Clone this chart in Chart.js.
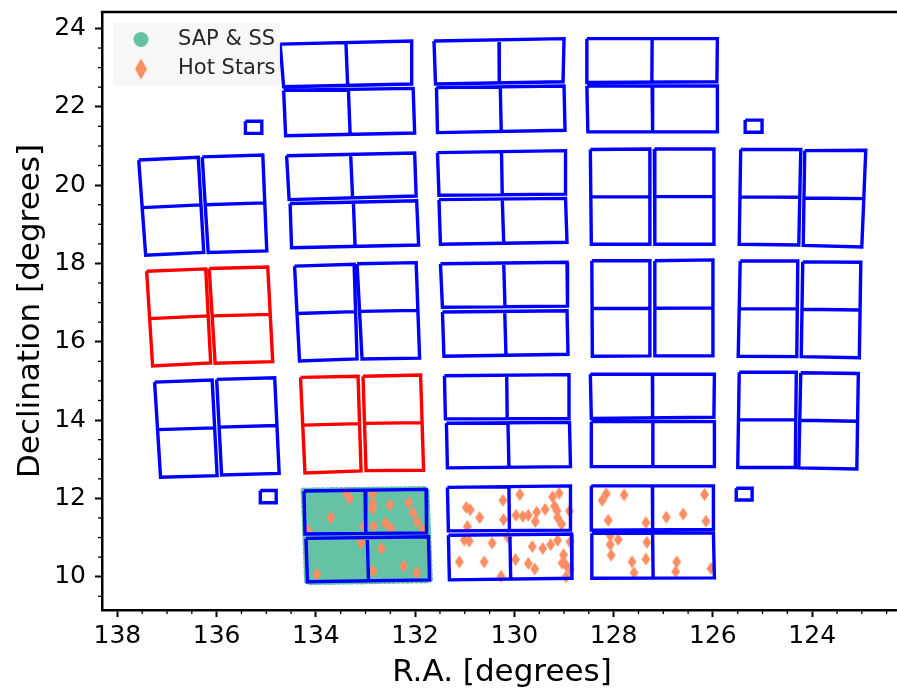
<!DOCTYPE html>
<html>
<head>
<meta charset="utf-8">
<title>K2 field of view</title>
<script src="https://cdn.jsdelivr.net/npm/chart.js@4.4.1/dist/chart.umd.min.js"></script>
<style>
    html, body { margin: 0; padding: 0; background: #ffffff; overflow: hidden; }
    #fovChart { display: block; }
</style>
</head>
<body>
<canvas id="fovChart" width="908" height="692"></canvas>
<script>
const raTicks = [138, 136, 134, 132, 130, 128, 126, 124];
const decTicks = [10, 12, 14, 16, 18, 20, 22, 24];
const legendLabels = ['SAP & SS', 'Hot Stars'];

// each CCD: four corners [R.A., Dec]; the divider joins mid(0,1) and mid(2,3)
const blueCcds = [
    [[134.72, 23.60], [132.07, 23.68], [132.07, 22.58], [134.65, 22.51]],
    [[134.65, 22.42], [132.04, 22.47], [132.01, 21.33], [134.61, 21.26]],
    [[131.62, 23.68], [129.00, 23.74], [129.02, 22.64], [131.59, 22.58]],
    [[131.57, 22.49], [129.00, 22.53], [128.98, 21.40], [131.55, 21.34]],
    [[128.54, 23.74], [125.91, 23.74], [125.92, 22.64], [128.54, 22.62]],
    [[128.54, 22.53], [125.91, 22.53], [125.91, 21.36], [128.52, 21.36]],
    [[137.57, 20.64], [137.43, 18.21], [136.26, 18.28], [136.37, 20.71]],
    [[136.29, 20.72], [136.17, 18.28], [134.99, 18.32], [135.07, 20.77]],
    [[134.59, 20.75], [132.01, 20.82], [131.98, 19.72], [134.54, 19.63]],
    [[134.52, 19.53], [131.97, 19.60], [131.93, 18.47], [134.49, 18.40]],
    [[131.55, 20.83], [128.97, 20.88], [128.97, 19.77], [131.52, 19.74]],
    [[131.52, 19.63], [128.97, 19.66], [128.94, 18.54], [131.49, 18.49]],
    [[128.47, 20.91], [128.45, 18.49], [127.27, 18.49], [127.27, 20.92]],
    [[127.18, 20.92], [127.17, 18.49], [125.99, 18.49], [125.98, 20.92]],
    [[125.44, 20.91], [125.47, 18.49], [124.27, 18.47], [124.23, 20.91]],
    [[124.15, 20.88], [124.18, 18.46], [123.00, 18.42], [122.92, 20.89]],
    [[134.43, 17.93], [134.33, 15.51], [133.17, 15.56], [133.23, 17.98]],
    [[133.17, 17.99], [133.07, 15.56], [131.91, 15.58], [131.98, 18.02]],
    [[131.49, 17.99], [128.94, 18.03], [128.93, 16.91], [131.45, 16.88]],
    [[131.45, 16.76], [128.94, 16.79], [128.92, 15.68], [131.42, 15.63]],
    [[128.44, 18.07], [128.43, 15.63], [127.27, 15.64], [127.27, 18.07]],
    [[127.17, 18.07], [127.17, 15.64], [126.01, 15.64], [126.00, 18.09]],
    [[125.45, 18.06], [125.49, 15.63], [124.31, 15.62], [124.29, 18.06]],
    [[124.19, 18.04], [124.22, 15.62], [123.05, 15.59], [123.02, 18.03]],
    [[137.25, 14.97], [137.13, 12.54], [135.99, 12.58], [136.09, 15.02]],
    [[136.00, 15.04], [135.90, 12.60], [134.74, 12.64], [134.83, 15.08]],
    [[131.41, 15.13], [128.90, 15.16], [128.90, 14.04], [131.39, 14.03]],
    [[131.37, 13.92], [128.89, 13.94], [128.87, 12.81], [131.35, 12.78]],
    [[128.47, 15.17], [125.97, 15.17], [125.98, 14.07], [128.45, 14.04]],
    [[128.45, 13.96], [125.97, 13.96], [125.97, 12.81], [128.45, 12.81]],
    [[125.47, 15.22], [125.50, 12.79], [124.34, 12.79], [124.32, 15.22]],
    [[124.23, 15.21], [124.27, 12.78], [123.10, 12.75], [123.07, 15.19]],
    [[134.24, 12.19], [131.78, 12.23], [131.77, 11.12], [134.22, 11.09]],
    [[134.20, 10.98], [131.73, 11.02], [131.71, 9.92], [134.17, 9.87]],
    [[131.35, 12.28], [128.87, 12.32], [128.87, 11.19], [131.33, 11.17]],
    [[131.33, 11.06], [128.85, 11.09], [128.84, 9.96], [131.31, 9.92]],
    [[128.45, 12.32], [125.99, 12.32], [125.99, 11.21], [128.44, 11.19]],
    [[128.44, 11.11], [125.99, 11.12], [125.97, 9.97], [128.44, 9.96]]
];

const redCcds = [
    [[137.41, 17.80], [137.29, 15.38], [136.12, 15.46], [136.22, 17.86]],
    [[136.15, 17.87], [136.03, 15.45], [134.87, 15.49], [134.97, 17.91]],
    [[134.31, 15.09], [134.22, 12.65], [133.09, 12.70], [133.15, 15.12]],
    [[133.05, 15.12], [132.99, 12.71], [131.83, 12.72], [131.89, 15.15]]
];

const fgsBoxes = [
    [[135.42, 21.63], [135.09, 21.63], [135.09, 21.32], [135.42, 21.32]],
    [[125.35, 21.66], [125.01, 21.66], [125.01, 21.35], [125.35, 21.35]],
    [[135.12, 12.20], [134.80, 12.20], [134.80, 11.89], [135.12, 11.89]],
    [[125.53, 12.26], [125.21, 12.26], [125.21, 11.96], [125.53, 11.96]]
];

const sapOutline = [[134.24, 12.19], [131.78, 12.23], [131.71, 9.92], [134.17, 9.87]];

const hotStarRa = [
    133.39, 133.32, 133.70, 132.86, 132.85, 132.86, 132.51, 132.13, 132.04, 131.96, 132.60,
    132.49, 132.84, 131.84, 134.16, 133.09, 132.68, 132.23, 131.97, 132.85, 133.98, 133.03,
    129.89, 130.23, 129.23, 129.10, 130.97, 130.89, 130.70, 130.22, 130.95, 129.97, 129.83,
    129.72, 129.55, 129.58, 129.38, 129.19, 129.14, 129.13, 129.05, 128.89,
    131.01, 130.91, 130.45, 130.13, 131.11, 130.61, 130.27, 129.98, 129.64, 129.43, 129.27,
    129.13, 129.72, 129.59, 129.01, 129.04, 128.97, 128.88, 128.88, 128.96,
    128.15, 128.23, 127.79, 128.11, 127.35, 126.17, 126.94, 126.60, 126.14, 128.07,
    127.91, 128.07, 128.05, 127.33, 127.63, 127.35, 127.59, 126.73, 126.75, 126.04
];
const hotStarDec = [
    12.14, 12.00, 11.51, 12.11, 11.86, 11.74, 11.83, 11.89, 11.63, 11.40, 11.37,
    11.24, 11.29, 11.20, 11.19, 10.87, 10.72, 10.27, 10.10, 10.15, 10.06, 11.28,
    12.10, 11.95, 12.04, 12.13, 11.77, 11.71, 11.51, 11.46, 11.28, 11.57, 11.54,
    11.57, 11.65, 11.41, 11.72, 11.80, 11.68, 11.51, 11.34, 11.68,
    10.94, 10.91, 10.86, 11.01, 10.38, 10.38, 10.01, 10.44, 10.77, 10.72, 10.82,
    10.93, 10.34, 10.20, 10.56, 10.35, 10.31, 10.89, 10.19, 10.00,
    12.12, 11.95, 12.09, 11.44, 11.38, 12.10, 11.52, 11.60, 11.42, 11.05,
    10.95, 10.82, 10.55, 10.88, 10.38, 10.45, 10.10, 10.38, 10.13, 10.21
];

const GREEN = '#66c2a5';
const ORANGE = '#fc8d62';
const FONT = "'DejaVu Sans', sans-serif";

function mid(a, b) {
    return { x: (a[0] + b[0]) / 2, y: (a[1] + b[1]) / 2 };
}

function outlinePoints(boxes, withDivider) {
    const pts = [];
    boxes.forEach(c => {
        c.concat([c[0]]).forEach(p => pts.push({ x: p[0], y: p[1] }));
        pts.push({ x: null, y: null });
        if (withDivider) {
            pts.push(mid(c[0], c[1]), mid(c[2], c[3]));
            pts.push({ x: null, y: null });
        }
    });
    return pts;
}

function makeDiamond(w, h, color) {
    const c = document.createElement('canvas');
    c.width = w + 2;
    c.height = h + 2;
    const g = c.getContext('2d');
    g.fillStyle = color;
    g.beginPath();
    g.moveTo(c.width / 2, 1);
    g.lineTo(c.width - 1, c.height / 2);
    g.lineTo(c.width / 2, c.height - 1);
    g.lineTo(1, c.height / 2);
    g.closePath();
    g.fill();
    return c;
}

const starMarker = makeDiamond(9, 13, ORANGE);

const frameAndMinorTicks = {
    id: 'frameAndMinorTicks',
    afterDraw(chart) {
        const { ctx, chartArea: a, scales: { x, y } } = chart;
        ctx.save();
        ctx.strokeStyle = '#000';
        ctx.lineWidth = 1.3;
        for (let v = Math.ceil(x.min * 2) / 2; v <= x.max; v += 0.5) {
            if (v % 2 === 0) continue;
            const px = x.getPixelForValue(v);
            ctx.beginPath();
            ctx.moveTo(px, a.bottom);
            ctx.lineTo(px, a.bottom + 4);
            ctx.stroke();
        }
        for (let v = Math.ceil(y.min * 2) / 2; v <= y.max; v += 0.5) {
            if (v % 2 === 0) continue;
            const py = y.getPixelForValue(v);
            ctx.beginPath();
            ctx.moveTo(a.left, py);
            ctx.lineTo(a.left - 4, py);
            ctx.stroke();
        }
        ctx.lineWidth = 2.5;
        ctx.beginPath();
        ctx.moveTo(a.left - 1.25, a.top);
        ctx.lineTo(a.right, a.top);
        ctx.lineTo(a.right, a.bottom);
        ctx.stroke();
        ctx.restore();
    }
};

const legendPlugin = {
    id: 'fovLegend',
    afterDraw(chart) {
        const { ctx, chartArea: a } = chart;
        const x0 = a.left + 11;
        const y0 = a.top + 11;
        ctx.save();
        ctx.fillStyle = 'rgba(246,246,246,0.9)';
        ctx.fillRect(x0, y0, 167, 63);
        ctx.fillStyle = GREEN;
        ctx.beginPath();
        ctx.arc(x0 + 28, y0 + 16.5, 7.5, 0, Math.PI * 2);
        ctx.fill();
        const big = makeDiamond(12, 21, ORANGE);
        ctx.drawImage(big, x0 + 28 - big.width / 2, y0 + 46 - big.height / 2);
        ctx.fillStyle = '#262626';
        ctx.font = '21px ' + FONT;
        ctx.textBaseline = 'alphabetic';
        ctx.fillText(legendLabels[0], x0 + 65, y0 + 22);
        ctx.fillText(legendLabels[1], x0 + 65, y0 + 51);
        ctx.restore();
    }
};

function init() {
    const ctx = document.getElementById('fovChart').getContext('2d');
    new Chart(ctx, {
        type: 'scatter',
        data: {
            datasets: [
                {
                    label: 'CCD modules',
                    data: outlinePoints(blueCcds, true).concat(outlinePoints(fgsBoxes, false)),
                    showLine: true,
                    borderColor: '#0000ff',
                    borderWidth: 3.4,
                    borderJoinStyle: 'miter',
                    pointRadius: 0,
                    order: 0
                },
                {
                    label: 'Failed modules',
                    data: outlinePoints(redCcds, true),
                    showLine: true,
                    borderColor: '#ff0000',
                    borderWidth: 3.4,
                    borderJoinStyle: 'miter',
                    pointRadius: 0,
                    order: 0
                },
                {
                    label: legendLabels[1],
                    data: hotStarRa.map((ra, i) => ({ x: ra, y: hotStarDec[i] })),
                    pointStyle: starMarker,
                    pointRadius: 5,
                    order: 1
                },
                {
                    label: legendLabels[0],
                    data: sapOutline.concat([sapOutline[0]]).map(p => ({ x: p[0], y: p[1] })),
                    showLine: true,
                    fill: 'shape',
                    backgroundColor: GREEN,
                    borderColor: GREEN,
                    borderWidth: 7,
                    borderDash: [0.1, 4.5],
                    borderCapStyle: 'round',
                    pointRadius: 0,
                    order: 2
                }
            ]
        },
        options: {
            responsive: false,
            animation: false,
            layout: { padding: { top: 12, right: 0, left: 0, bottom: 0 } },
            plugins: {
                legend: { display: false },
                tooltip: { enabled: false }
            },
            scales: {
                x: {
                    type: 'linear',
                    reverse: true,
                    min: 122.19,
                    max: 138.31,
                    afterBuildTicks: s => { s.ticks = raTicks.map(v => ({ value: v })); },
                    afterFit: s => {
                        s.height = 82;
                        s.paddingLeft = 0;
                        s.paddingRight = 0;
                    },
                    ticks: { color: '#000', font: { family: FONT, size: 25 }, padding: 4, maxRotation: 0 },
                    grid: { drawOnChartArea: false, drawTicks: true, tickLength: 7, tickWidth: 2, tickColor: '#000' },
                    border: { display: true, color: '#000', width: 2.5 },
                    title: {
                        display: true,
                        text: 'R.A. [degrees]',
                        color: '#000',
                        font: { family: FONT, size: 31 },
                        padding: { top: 0, bottom: 0 }
                    }
                },
                y: {
                    type: 'linear',
                    min: 9.15,
                    max: 24.42,
                    afterBuildTicks: s => { s.ticks = decTicks.map(v => ({ value: v })); },
                    afterFit: s => {
                        s.width = 102;
                        s.paddingTop = 0;
                        s.paddingBottom = 0;
                    },
                    ticks: { color: '#000', font: { family: FONT, size: 25 }, padding: 9 },
                    grid: { drawOnChartArea: false, drawTicks: true, tickLength: 7, tickWidth: 2, tickColor: '#000' },
                    border: { display: true, color: '#000', width: 2.5 },
                    title: {
                        display: true,
                        text: 'Declination [degrees]',
                        color: '#000',
                        font: { family: FONT, size: 31 },
                        padding: { top: 12, bottom: 0 }
                    }
                }
            }
        },
        plugins: [frameAndMinorTicks, legendPlugin]
    });
}

document.addEventListener('DOMContentLoaded', init);
</script>
</body>
</html>
